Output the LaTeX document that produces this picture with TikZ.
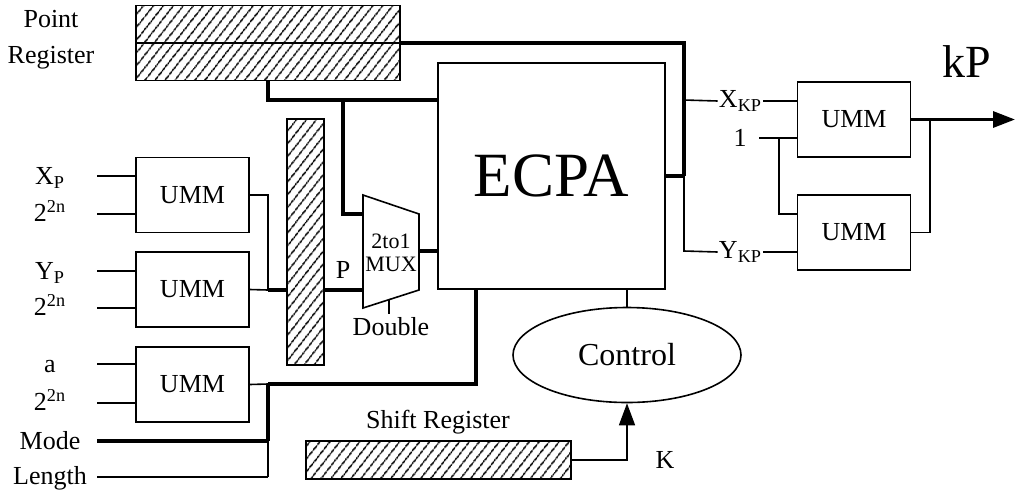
\documentclass[tikz,border=0pt]{standalone}
\usepackage{fontspec}
\setmainfont{Liberation Serif}
\usetikzlibrary{arrows.meta, positioning, shapes.geometric, calc, patterns.meta}

\begin{document}
\begin{tikzpicture}[
  x=0.5pt, y=-0.5pt,
  >={Triangle[length=11pt, width=8pt]},
  wire/.style  = {line width=0.8pt},
  bus/.style   = {line width=1.6pt},
  block/.style = {draw, line width=0.8pt, minimum width=56.5pt, minimum height=37.5pt, inner sep=0pt, font=\fontsize{13}{15}\selectfont},
  hatch/.style = {draw, line width=0.8pt, inner sep=0pt, pattern={Lines[angle=52, distance=4pt, line width=0.85pt]}},
  lbl/.style   = {inner sep=0.5pt, font=\fontsize{13}{18}\selectfont, align=center},
]
\useasboundingbox (0,0) rectangle (1016,493);

%── Nodes ─────────────────────────────────────────────────────────────────────
% registers
\node[hatch, minimum width=132pt, minimum height=37.5pt] (preg) at (268,43)    {};
\node[hatch, minimum width=18.5pt, minimum height=123pt] (bar) at (305.5,242) {};
\node[hatch, minimum width=132.5pt, minimum height=19pt] (sreg) at (438.5,460) {};

% input multipliers (left column)
\node[block] (umm1) at (192.5,195)   {UMM};
\node[block] (umm2) at (192.5,289.5) {UMM};
\node[block] (umm3) at (192.5,384.5) {UMM};

% point adder and control
\node[block, minimum width=113.5pt, minimum height=113pt, font=\fontsize{31.5}{32}\selectfont] (ecpa) at (551.5,176) {ECPA};
\node[draw, ellipse, wire, minimum width=114pt, minimum height=47.5pt, inner sep=0pt, font=\fontsize{16}{16}\selectfont] (ctrl) at (627,355) {Control};

% output multipliers (right column)
\node[block] (umm4) at (854,119.5) {UMM};
\node[block] (umm5) at (854,232.5) {UMM};

% 2to1 multiplexer
\coordinate (mux1) at (363,195);
\coordinate (mux2) at (419,214);
\coordinate (mux3) at (419,290);
\coordinate (mux4) at (363,308);
\draw[wire] (mux1) -- (mux2) -- (mux3) -- (mux4) -- cycle;
\node[inner sep=0pt, align=center, font=\fontsize{11}{11.5}\selectfont] (mux) at (391,252.5) {2to1\\MUX};

%── Labels ────────────────────────────────────────────────────────────────────
\node[lbl] (pregl) at (51,40)  {Point\\Register};
\node[lbl] (xp)    at (50,178) {X\textsubscript{P}};
\node[lbl] (sx1)   at (50,211) {2\textsuperscript{2n}};
\node[lbl] (yp)    at (50,273) {Y\textsubscript{P}};
\node[lbl] (sx2)   at (50,305) {2\textsuperscript{2n}};
\node[lbl] (al)    at (50,367) {a};
\node[lbl] (sx3)   at (50,400) {2\textsuperscript{2n}};
\node[lbl] (model) at (50,441) {Mode};
\node[lbl] (lenl)  at (50,478) {Length};
\node[lbl] (plbl)  at (343,270) {P};
\node[lbl] (dbll)  at (391,327) {Double};
\node[lbl] (sregl) at (438,422) {Shift Register};
\node[lbl] (kl)    at (665,460) {K};
\node[lbl] (xkp)   at (740.5,101) {X\textsubscript{KP}};
\node[lbl] (one)   at (740,138) {1};
\node[lbl] (ykp)   at (740.5,252) {Y\textsubscript{KP}};
\node[font=\fontsize{23}{23}\selectfont] (kp) at (967,62) {kP};

%── Pickup coordinates ────────────────────────────────────────────────────────
\coordinate (inx)  at (97,176);
\coordinate (in1)  at (97,214);
\coordinate (iny)  at (97,271);
\coordinate (in2)  at (97,308);
\coordinate (ina)  at (97,364);
\coordinate (in3)  at (97,403);
\coordinate (inm)  at (97,441);
\coordinate (inl)  at (97,477);
\coordinate (j1)   at (268,195);   % UMM outputs spine
\coordinate (j2)   at (268,290);
\coordinate (j3)   at (268,384);
\coordinate (jm)   at (268,441);
\coordinate (jl)   at (268,477);
\coordinate (pd)   at (268,100);   % point register tap
\coordinate (pm)   at (343,100);
\coordinate (mxa)  at (363,214);   % mux inputs
\coordinate (mxb)  at (363,290);
\coordinate (mxo)  at (419,251);
\coordinate (dbl)  at (389,299.6);
\coordinate (eb)   at (476,289);   % ECPA bottom input
\coordinate (busr) at (684,43);    % right bus
\coordinate (buse) at (684,176);
\coordinate (busx) at (684,100);
\coordinate (busy) at (684,251);
\coordinate (onei) at (759,138);
\coordinate (oneb) at (779,138);
\coordinate (outj) at (930,119.5);
\coordinate (kpo)  at (1015,119.5);
\coordinate (kc)   at (627,460);

%── Input wires ───────────────────────────────────────────────────────────────
\draw[wire] (inx) -- (umm1.west |- inx);
\draw[wire] (in1) -- (umm1.west |- in1);
\draw[wire] (iny) -- (umm2.west |- iny);
\draw[wire] (in2) -- (umm2.west |- in2);
\draw[wire] (ina) -- (umm3.west |- ina);
\draw[wire] (in3) -- (umm3.west |- in3);
\draw[bus]  (inm) -- (jm);
\draw[wire] (inl) -- (jl);

%── UMM outputs to bar and ECPA ───────────────────────────────────────────────
\draw[wire] (umm1.east) -- (j1) -- (j2);
\draw[wire] (umm2.east) -- (j2);
\draw[bus]  (j2) -- (bar.west |- j2);
\draw[bus]  (bar.east |- mxb) -- (mxb);
\draw[wire] (umm3.east) -- (j3);
\draw[bus]  (j3) -- (jm);
\draw[wire] (jm) -- (jl);
\draw[bus]  (j3) -- (j3 -| eb) -- (eb);

%── Point register taps ───────────────────────────────────────────────────────
\draw[wire] (preg.west) -- (preg.east);
\draw[bus]  (preg.south -| pd) -- (pd) -- (ecpa.west |- pd);
\draw[bus]  (pm) -- (pm |- mxa) -- (mxa);
\draw[bus]  (mxo) -- (ecpa.west |- mxo);
\draw[wire] (dbl) -- ++(0,14);

%── Right bus and output multipliers ──────────────────────────────────────────
\draw[bus]  (preg.east) -- (busr) -- (buse);
\draw[bus]  (ecpa.east |- buse) -- (buse);
\draw[wire] (buse) -- (busy) -- (ykp.west);
\draw[wire] (busx) -- (xkp.west);
\draw[wire] (xkp.east) -- (umm4.west |- xkp);
\draw[wire] (ykp.east) -- (umm5.west |- ykp);
\draw[wire] (onei) -- (umm4.west |- onei);
\draw[wire] (oneb) -- (oneb |- 0,214) -- (umm5.west |- 0,214);
\draw[bus, ->] (umm4.east) -- (kpo);
\draw[wire] (umm5.east) -- (umm5.east -| outj) -- (outj);

%── Control ───────────────────────────────────────────────────────────────────
\draw[wire] (ecpa.south -| ctrl) -- (ctrl.north);
\draw[wire, ->] (sreg.east) -- (kc) -- (ctrl.south);

\end{tikzpicture}
\end{document}
